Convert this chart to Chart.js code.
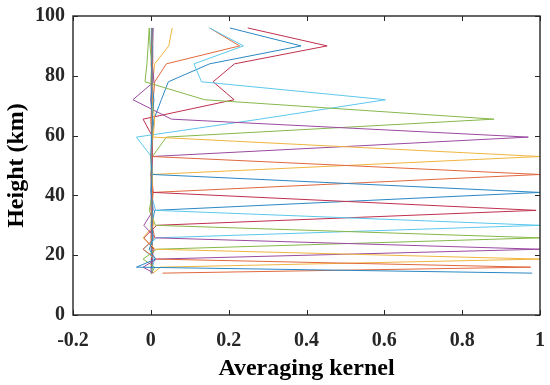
<!DOCTYPE html>
<html><head><meta charset="utf-8">
<script src="https://cdn.jsdelivr.net/npm/chart.js@4.4.1/dist/chart.umd.min.js"></script>
<style>html,body{margin:0;padding:0;background:#fff}#wrap{width:550px;height:385px}</style>
</head><body><div id="wrap"><canvas id="c" width="550" height="385"></canvas></div>
<script>
// Height grid (km)
const heights = [14, 16, 18.7, 22, 25.8, 30, 35, 41, 47, 53, 59.5, 65.5, 72, 78, 84, 90, 96];
// Averaging kernel rows (values at each height above), one per nominal level
const kernel_14   = [0.98, -0.037, 0.012, -0.004, 0.006, 0.002, 0.004, 0.001, 0.003, 0.000, 0.002, 0.004, 0.001, 0.003, 0.002, 0.004, 0.003];
const kernel_16   = [0.030, 0.976, 0.015, -0.020, 0.010, 0.003, 0.002, 0.004, 0.001, 0.003, 0.002, 0.000, 0.003, 0.002, 0.004, 0.002, 0.003];
const kernel_18_7 = [0.005, 0.025, 1.0, 0.012, -0.020, 0.008, 0.002, 0.003, 0.004, 0.001, 0.003, 0.002, 0.004, 0.003, 0.001, 0.004, 0.002];
const kernel_22   = [0.008, -0.020, 0.015, 1.0, 0.012, -0.018, 0.006, 0.002, 0.001, 0.004, 0.002, 0.003, 0.000, 0.002, 0.003, 0.002, 0.004];
const kernel_25_8 = [0.002, 0.010, -0.020, 0.015, 1.0, 0.012, -0.004, 0.004, 0.002, 0.001, 0.004, 0.002, 0.003, 0.000, 0.002, -0.002, -0.004];
const kernel_30   = [0.001, 0.004, 0.010, -0.020, 0.015, 1.0, 0.012, 0.000, 0.003, 0.002, 0.001, 0.003, 0.004, 0.002, 0.003, 0.002, 0.001];
const kernel_35   = [0.002, 0.003, 0.002, 0.008, -0.018, 0.015, 0.99, 0.006, 0.002, 0.004, 0.003, 0.001, 0.002, 0.004, 0.001, 0.003, 0.002];
const kernel_41   = [0.001, 0.002, 0.003, 0.002, 0.004, 0.002, 0.010, 1.0, 0.005, 0.001, 0.004, 0.003, 0.008, 0.002, 0.003, 0.001, 0.003];
const kernel_47   = [0.003, 0.001, 0.002, 0.004, 0.002, 0.003, 0.002, 0.006, 1.0, 0.004, 0.002, 0.005, 0.001, 0.003, 0.002, 0.004, 0.003];
const kernel_53   = [0.002, 0.003, 0.001, 0.002, 0.003, 0.001, 0.003, 0.002, 0.003, 1.0, 0.006, 0.010, 0.003, 0.002, 0.005, 0.003, 0.004];
const kernel_59_5 = [0.001, 0.002, 0.003, 0.001, 0.002, 0.004, 0.001, 0.003, 0.002, 0.002, 0.97, 0.053, -0.046, 0.008, 0.004, 0.005, 0.006];
const kernel_65_5 = [0.002, 0.001, 0.002, 0.003, 0.001, 0.002, 0.003, 0.002, 0.001, 0.004, 0.040, 0.882, 0.138, -0.015, -0.010, -0.007, -0.004];
const kernel_72   = [0.001, 0.002, 0.001, 0.002, 0.003, 0.001, 0.002, 0.003, 0.002, 0.001, -0.037, 0.280, 0.603, 0.130, 0.111, 0.238, 0.151];
const kernel_78   = [0.002, 0.001, 0.003, 0.002, 0.001, 0.003, 0.002, 0.001, 0.003, 0.002, 0.005, -0.020, 0.214, 0.160, 0.215, 0.453, 0.249];
const kernel_84   = [0.001, 0.003, 0.002, 0.001, 0.002, 0.002, 0.001, 0.002, 0.001, 0.003, 0.004, 0.008, 0.027, 0.045, 0.151, 0.386, 0.203];
const kernel_90   = [0.002, 0.002, 0.001, 0.003, 0.002, 0.001, 0.003, 0.002, 0.002, 0.001, 0.003, 0.004, 0.006, 0.010, 0.040, 0.228, 0.151];
const kernel_96   = [0.001, 0.002, 0.002, 0.001, 0.003, 0.002, 0.001, 0.003, 0.001, 0.002, 0.003, 0.002, 0.004, 0.005, 0.010, 0.046, 0.055];

const kernels = [kernel_14, kernel_16, kernel_18_7, kernel_22, kernel_25_8, kernel_30, kernel_35, kernel_41, kernel_47,
                 kernel_53, kernel_59_5, kernel_65_5, kernel_72, kernel_78, kernel_84, kernel_90, kernel_96];
const palette = ['#2a88c4', '#e0683e', '#f0b540', '#9a4aa0', '#86b84a', '#5cc8ec', '#c0304e'];
const xTicks = [-0.2, 0, 0.2, 0.4, 0.6, 0.8, 1];
const yTicks = [0, 20, 40, 60, 80, 100];

const datasets = kernels.map((row, i) => ({
  label: 'AK ' + heights[i] + ' km',
  data: row.map((v, j) => ({x: v, y: heights[j]})),
  borderColor: palette[i % palette.length],
  borderWidth: 1,
  pointRadius: 0,
  showLine: true,
  fill: false,
  tension: 0
}));

const axisColor = '#262626';
const frameTicks = {
  id: 'frameTicks',
  afterDraw(chart) {
    const {ctx, chartArea: a, scales: {x, y}} = chart;
    ctx.save();
    ctx.strokeStyle = axisColor;
    ctx.lineWidth = 1.4;
    ctx.strokeRect(a.left, a.top, a.right - a.left, a.bottom - a.top);
    ctx.lineWidth = 1;
    const L = 5;
    ctx.beginPath();
    x.ticks.forEach(t => {
      const p = Math.round(x.getPixelForValue(t.value)) + 0.5;
      ctx.moveTo(p, a.bottom); ctx.lineTo(p, a.bottom - L);
      ctx.moveTo(p, a.top); ctx.lineTo(p, a.top + L);
    });
    y.ticks.forEach(t => {
      const p = Math.round(y.getPixelForValue(t.value)) + 0.5;
      ctx.moveTo(a.left, p); ctx.lineTo(a.left + L, p);
      ctx.moveTo(a.right, p); ctx.lineTo(a.right - L, p);
    });
    ctx.stroke();
    ctx.restore();
  }
};

const tickFont = {family: "'Liberation Serif', 'Times New Roman', serif", size: 20, weight: 'bold'};
const titleFont = {family: "'Liberation Serif', 'Times New Roman', serif", size: 24, weight: 'bold'};

new Chart(document.getElementById('c'), {
  type: 'scatter',
  data: {datasets},
  options: {
    responsive: false,
    animation: false,
    devicePixelRatio: 1,
    layout: {padding: {top: 16, right: 10, left: 0, bottom: 0}},
    plugins: {legend: {display: false}, tooltip: {enabled: false}},
    elements: {point: {radius: 0}},
    scales: {
      x: {
        type: 'linear', min: -0.2, max: 1,
        afterBuildTicks: s => { s.ticks = xTicks.map(v => ({value: v})); },
        afterFit: s => { s.height = 70; s.paddingLeft = 0; s.paddingRight = 0; },
        grid: {display: false, drawTicks: false},
        border: {display: false},
        ticks: {color: axisColor, font: tickFont, padding: 14, maxRotation: 0, autoSkip: false,
                callback: v => String(Number(v.toFixed(1)))},
        title: {display: true, text: 'Averaging kernel', color: '#000', font: titleFont, padding: {top: 0, bottom: 2}}
      },
      y: {
        type: 'linear', min: 0, max: 100,
        afterBuildTicks: s => { s.ticks = yTicks.map(v => ({value: v})); },
        afterFit: s => { s.width = 73; s.paddingTop = 0; s.paddingBottom = 0; },
        grid: {display: false, drawTicks: false},
        border: {display: false},
        ticks: {color: axisColor, font: tickFont, padding: 8, autoSkip: false},
        title: {display: true, text: 'Height (km)', color: '#000', font: titleFont, padding: {top: 2, bottom: 0}}
      }
    }
  },
  plugins: [frameTicks]
});
</script>
</body></html>
